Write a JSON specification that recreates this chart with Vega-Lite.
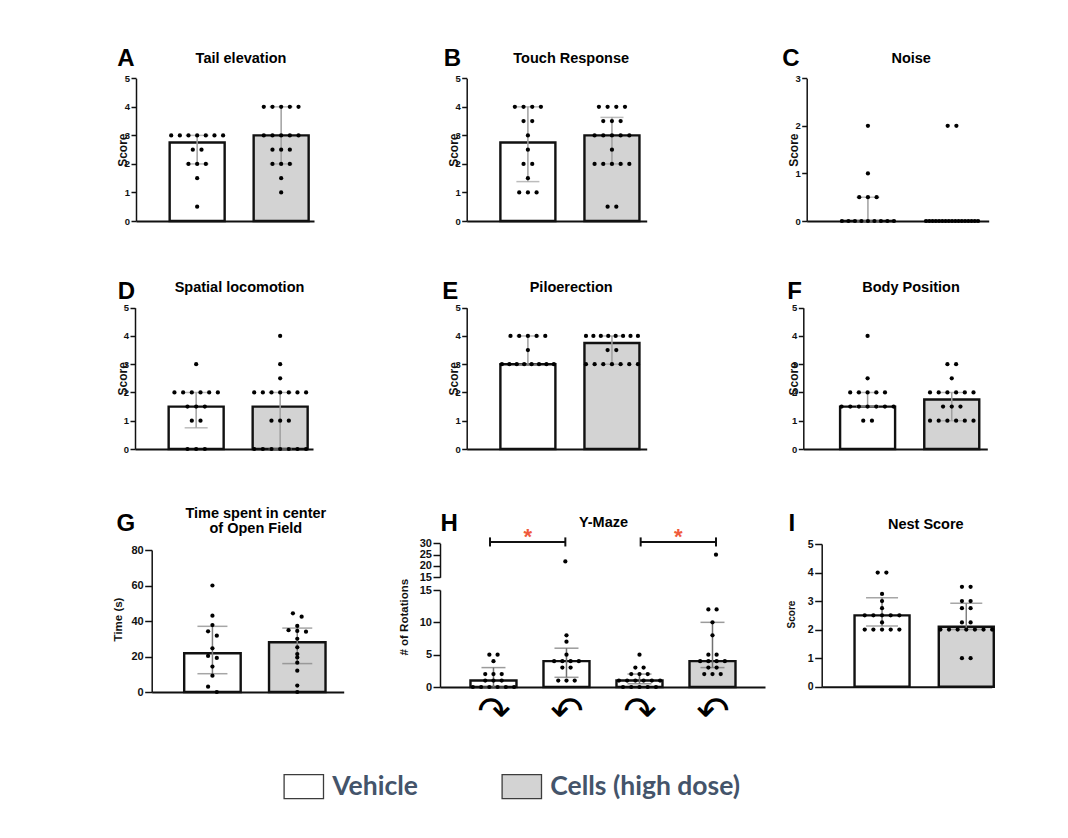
{
"$schema": "https://vega.github.io/schema/vega-lite/v6.json",
"width": 1068, "height": 838,
"autosize": {"type": "none"},
"padding": 0,
"background": "white",
"config": {
 "view": {"stroke": null},
 "font": "Liberation Sans",
 "axis": {"grid": false, "labelFont": "Liberation Sans", "labelFontWeight": "bold", "labelColor": "#111", "titleFont": "Liberation Sans", "titleFontWeight": "bold", "titleColor": "#111", "domainColor": "#111", "tickColor": "#111", "domainWidth": 1.5, "tickWidth": 1.5, "labelOverlap": false},
 "legend": {"orient": "none", "legendX": 283.3, "legendY": 765.6, "direction": "horizontal", "symbolType": "M-1,-0.61H1V0.61H-1Z", "symbolSize": 1552, "symbolStrokeColor": "#3c3c3c", "symbolStrokeWidth": 1.3, "labelFont": "Lato", "labelFontSize": 26.5, "labelFontWeight": "bold", "labelColor": "#44546a", "labelOffset": 8, "columnPadding": 81, "labelLimit": 400, "padding": 0}
},
"datasets": {
 "bars": [
  {"panel":"A","g":1,"treatment":"Vehicle","median":2.75,"q1":2.0,"q3":3.0},
  {"panel":"A","g":2,"treatment":"Cells (high dose)","median":3.0,"q1":2.0,"q3":4.0},
  {"panel":"B","g":1,"treatment":"Vehicle","median":2.75,"q1":1.38,"q3":4.0},
  {"panel":"B","g":2,"treatment":"Cells (high dose)","median":3.0,"q1":2.0,"q3":3.63},
  {"panel":"C","g":1,"treatment":"Vehicle","median":0,"q1":0,"q3":0.5},
  {"panel":"C","g":2,"treatment":"Cells (high dose)","median":0,"q1":0,"q3":0},
  {"panel":"D","g":1,"treatment":"Vehicle","median":1.5,"q1":0.75,"q3":2.0},
  {"panel":"D","g":2,"treatment":"Cells (high dose)","median":1.5,"q1":0,"q3":2.0},
  {"panel":"E","g":1,"treatment":"Vehicle","median":3.0,"q1":3.0,"q3":4.0},
  {"panel":"E","g":2,"treatment":"Cells (high dose)","median":3.75,"q1":3.0,"q3":4.0},
  {"panel":"F","g":1,"treatment":"Vehicle","median":1.5,"q1":1.5,"q3":2.0},
  {"panel":"F","g":2,"treatment":"Cells (high dose)","median":1.75,"q1":1.0,"q3":2.0},
  {"panel":"G","g":1,"treatment":"Vehicle","median":21.8,"q1":10.3,"q3":37},
  {"panel":"G","g":2,"treatment":"Cells (high dose)","median":28,"q1":16,"q3":36},
  {"panel":"H","g":1,"treatment":"Vehicle","median":1,"q1":0,"q3":3},
  {"panel":"H","g":2,"treatment":"Vehicle","median":4,"q1":1.5,"q3":6},
  {"panel":"H","g":3,"treatment":"Vehicle","median":1,"q1":0.5,"q3":2},
  {"panel":"H","g":4,"treatment":"Cells (high dose)","median":4,"q1":3,"q3":10},
  {"panel":"I","g":1,"treatment":"Vehicle","median":2.5,"q1":2.13,"q3":3.12},
  {"panel":"I","g":2,"treatment":"Cells (high dose)","median":2.1,"q1":2.0,"q3":2.92}
 ],
 "comps": [{"a":1,"b":2,"sig":"*"},{"a":3,"b":4,"sig":"*"}],
 "dots": [
  {"panel":"A","g":1,"v":3},{"panel":"A","g":1,"v":3},{"panel":"A","g":1,"v":3},{"panel":"A","g":1,"v":3},{"panel":"A","g":1,"v":3},{"panel":"A","g":1,"v":3},{"panel":"A","g":1,"v":3},{"panel":"A","g":1,"v":2.5},{"panel":"A","g":1,"v":2.5},{"panel":"A","g":1,"v":2},{"panel":"A","g":1,"v":2},{"panel":"A","g":1,"v":2},{"panel":"A","g":1,"v":1.5},{"panel":"A","g":1,"v":0.5},
  {"panel":"A","g":2,"v":4},{"panel":"A","g":2,"v":4},{"panel":"A","g":2,"v":4},{"panel":"A","g":2,"v":4},{"panel":"A","g":2,"v":4},{"panel":"A","g":2,"v":3},{"panel":"A","g":2,"v":3},{"panel":"A","g":2,"v":3},{"panel":"A","g":2,"v":3},{"panel":"A","g":2,"v":3},{"panel":"A","g":2,"v":2.5},{"panel":"A","g":2,"v":2.5},{"panel":"A","g":2,"v":2.5},{"panel":"A","g":2,"v":2},{"panel":"A","g":2,"v":2},{"panel":"A","g":2,"v":2},{"panel":"A","g":2,"v":1.5},{"panel":"A","g":2,"v":1},
  {"panel":"B","g":1,"v":4},{"panel":"B","g":1,"v":4},{"panel":"B","g":1,"v":4},{"panel":"B","g":1,"v":4},{"panel":"B","g":1,"v":3.5},{"panel":"B","g":1,"v":3.5},{"panel":"B","g":1,"v":3},{"panel":"B","g":1,"v":2.5},{"panel":"B","g":1,"v":2},{"panel":"B","g":1,"v":2},{"panel":"B","g":1,"v":1.5},{"panel":"B","g":1,"v":1},{"panel":"B","g":1,"v":1},{"panel":"B","g":1,"v":1},
  {"panel":"B","g":2,"v":4},{"panel":"B","g":2,"v":4},{"panel":"B","g":2,"v":4},{"panel":"B","g":2,"v":4},{"panel":"B","g":2,"v":3.5},{"panel":"B","g":2,"v":3.5},{"panel":"B","g":2,"v":3.5},{"panel":"B","g":2,"v":3},{"panel":"B","g":2,"v":3},{"panel":"B","g":2,"v":3},{"panel":"B","g":2,"v":3},{"panel":"B","g":2,"v":3},{"panel":"B","g":2,"v":2.5},{"panel":"B","g":2,"v":2},{"panel":"B","g":2,"v":2},{"panel":"B","g":2,"v":2},{"panel":"B","g":2,"v":2},{"panel":"B","g":2,"v":2},{"panel":"B","g":2,"v":0.5},{"panel":"B","g":2,"v":0.5},
  {"panel":"C","g":1,"v":2},{"panel":"C","g":1,"v":1},{"panel":"C","g":1,"v":0.5},{"panel":"C","g":1,"v":0.5},{"panel":"C","g":1,"v":0.5},{"panel":"C","g":1,"v":0},{"panel":"C","g":1,"v":0},{"panel":"C","g":1,"v":0},{"panel":"C","g":1,"v":0},{"panel":"C","g":1,"v":0},{"panel":"C","g":1,"v":0},{"panel":"C","g":1,"v":0},{"panel":"C","g":1,"v":0},{"panel":"C","g":1,"v":0},
  {"panel":"C","g":2,"v":2},{"panel":"C","g":2,"v":2},{"panel":"C","g":2,"v":0},{"panel":"C","g":2,"v":0},{"panel":"C","g":2,"v":0},{"panel":"C","g":2,"v":0},{"panel":"C","g":2,"v":0},{"panel":"C","g":2,"v":0},{"panel":"C","g":2,"v":0},{"panel":"C","g":2,"v":0},{"panel":"C","g":2,"v":0},{"panel":"C","g":2,"v":0},{"panel":"C","g":2,"v":0},{"panel":"C","g":2,"v":0},{"panel":"C","g":2,"v":0},{"panel":"C","g":2,"v":0},{"panel":"C","g":2,"v":0},{"panel":"C","g":2,"v":0},{"panel":"C","g":2,"v":0},
  {"panel":"D","g":1,"v":3},{"panel":"D","g":1,"v":2},{"panel":"D","g":1,"v":2},{"panel":"D","g":1,"v":2},{"panel":"D","g":1,"v":2},{"panel":"D","g":1,"v":2},{"panel":"D","g":1,"v":2},{"panel":"D","g":1,"v":1.5},{"panel":"D","g":1,"v":1.5},{"panel":"D","g":1,"v":1.5},{"panel":"D","g":1,"v":1},{"panel":"D","g":1,"v":1},{"panel":"D","g":1,"v":0},{"panel":"D","g":1,"v":0},{"panel":"D","g":1,"v":0},
  {"panel":"D","g":2,"v":4},{"panel":"D","g":2,"v":3},{"panel":"D","g":2,"v":2.5},{"panel":"D","g":2,"v":2},{"panel":"D","g":2,"v":2},{"panel":"D","g":2,"v":2},{"panel":"D","g":2,"v":2},{"panel":"D","g":2,"v":2},{"panel":"D","g":2,"v":2},{"panel":"D","g":2,"v":2},{"panel":"D","g":2,"v":1},{"panel":"D","g":2,"v":1},{"panel":"D","g":2,"v":1},{"panel":"D","g":2,"v":0},{"panel":"D","g":2,"v":0},{"panel":"D","g":2,"v":0},{"panel":"D","g":2,"v":0},{"panel":"D","g":2,"v":0},{"panel":"D","g":2,"v":0},{"panel":"D","g":2,"v":0},
  {"panel":"E","g":1,"v":4},{"panel":"E","g":1,"v":4},{"panel":"E","g":1,"v":4},{"panel":"E","g":1,"v":4},{"panel":"E","g":1,"v":4},{"panel":"E","g":1,"v":3.5},{"panel":"E","g":1,"v":3},{"panel":"E","g":1,"v":3},{"panel":"E","g":1,"v":3},{"panel":"E","g":1,"v":3},{"panel":"E","g":1,"v":3},{"panel":"E","g":1,"v":3},{"panel":"E","g":1,"v":3},{"panel":"E","g":1,"v":3},
  {"panel":"E","g":2,"v":4},{"panel":"E","g":2,"v":4},{"panel":"E","g":2,"v":4},{"panel":"E","g":2,"v":4},{"panel":"E","g":2,"v":4},{"panel":"E","g":2,"v":4},{"panel":"E","g":2,"v":4},{"panel":"E","g":2,"v":4},{"panel":"E","g":2,"v":3.5},{"panel":"E","g":2,"v":3.5},{"panel":"E","g":2,"v":3},{"panel":"E","g":2,"v":3},{"panel":"E","g":2,"v":3},{"panel":"E","g":2,"v":3},{"panel":"E","g":2,"v":3},{"panel":"E","g":2,"v":3},{"panel":"E","g":2,"v":3},
  {"panel":"F","g":1,"v":4},{"panel":"F","g":1,"v":2.5},{"panel":"F","g":1,"v":2},{"panel":"F","g":1,"v":2},{"panel":"F","g":1,"v":2},{"panel":"F","g":1,"v":2},{"panel":"F","g":1,"v":2},{"panel":"F","g":1,"v":1.5},{"panel":"F","g":1,"v":1.5},{"panel":"F","g":1,"v":1.5},{"panel":"F","g":1,"v":1.5},{"panel":"F","g":1,"v":1.5},{"panel":"F","g":1,"v":1.5},{"panel":"F","g":1,"v":1.5},{"panel":"F","g":1,"v":1},{"panel":"F","g":1,"v":1},
  {"panel":"F","g":2,"v":3},{"panel":"F","g":2,"v":3},{"panel":"F","g":2,"v":2.5},{"panel":"F","g":2,"v":2},{"panel":"F","g":2,"v":2},{"panel":"F","g":2,"v":2},{"panel":"F","g":2,"v":2},{"panel":"F","g":2,"v":2},{"panel":"F","g":2,"v":2},{"panel":"F","g":2,"v":1.5},{"panel":"F","g":2,"v":1.5},{"panel":"F","g":2,"v":1.5},{"panel":"F","g":2,"v":1},{"panel":"F","g":2,"v":1},{"panel":"F","g":2,"v":1},{"panel":"F","g":2,"v":1},{"panel":"F","g":2,"v":1},{"panel":"F","g":2,"v":1},
  {"panel":"G","g":1,"v":60},{"panel":"G","g":1,"v":43},{"panel":"G","g":1,"v":37.7},{"panel":"G","g":1,"v":34.2},{"panel":"G","g":1,"v":31.7},{"panel":"G","g":1,"v":24.6},{"panel":"G","g":1,"v":20.3},{"panel":"G","g":1,"v":19.2},{"panel":"G","g":1,"v":14.3},{"panel":"G","g":1,"v":9.2},{"panel":"G","g":1,"v":3},{"panel":"G","g":1,"v":0},
  {"panel":"G","g":2,"v":44.3},{"panel":"G","g":2,"v":42.4},{"panel":"G","g":2,"v":37.2},{"panel":"G","g":2,"v":34.8},{"panel":"G","g":2,"v":34.4},{"panel":"G","g":2,"v":34},{"panel":"G","g":2,"v":30},{"panel":"G","g":2,"v":25.2},{"panel":"G","g":2,"v":21.4},{"panel":"G","g":2,"v":19.5},{"panel":"G","g":2,"v":16.5},{"panel":"G","g":2,"v":12},{"panel":"G","g":2,"v":3.6},{"panel":"G","g":2,"v":0},
  {"panel":"H","g":1,"v":5},{"panel":"H","g":1,"v":5},{"panel":"H","g":1,"v":4},{"panel":"H","g":1,"v":2},{"panel":"H","g":1,"v":2},{"panel":"H","g":1,"v":2},{"panel":"H","g":1,"v":1},{"panel":"H","g":1,"v":1},{"panel":"H","g":1,"v":1},{"panel":"H","g":1,"v":0},{"panel":"H","g":1,"v":0},{"panel":"H","g":1,"v":0},{"panel":"H","g":1,"v":0},{"panel":"H","g":1,"v":0},{"panel":"H","g":1,"v":0},
  {"panel":"H","g":2,"v":22},{"panel":"H","g":2,"v":8},{"panel":"H","g":2,"v":7},{"panel":"H","g":2,"v":5},{"panel":"H","g":2,"v":4},{"panel":"H","g":2,"v":4},{"panel":"H","g":2,"v":4},{"panel":"H","g":2,"v":4},{"panel":"H","g":2,"v":3},{"panel":"H","g":2,"v":3},{"panel":"H","g":2,"v":1},{"panel":"H","g":2,"v":1},{"panel":"H","g":2,"v":1},
  {"panel":"H","g":3,"v":5},{"panel":"H","g":3,"v":3},{"panel":"H","g":3,"v":3},{"panel":"H","g":3,"v":2},{"panel":"H","g":3,"v":2},{"panel":"H","g":3,"v":2},{"panel":"H","g":3,"v":1},{"panel":"H","g":3,"v":1},{"panel":"H","g":3,"v":1},{"panel":"H","g":3,"v":1},{"panel":"H","g":3,"v":1},{"panel":"H","g":3,"v":1},{"panel":"H","g":3,"v":0},{"panel":"H","g":3,"v":0},{"panel":"H","g":3,"v":0},{"panel":"H","g":3,"v":0},{"panel":"H","g":3,"v":0},
  {"panel":"H","g":4,"v":25},{"panel":"H","g":4,"v":12},{"panel":"H","g":4,"v":12},{"panel":"H","g":4,"v":10},{"panel":"H","g":4,"v":8},{"panel":"H","g":4,"v":5},{"panel":"H","g":4,"v":5},{"panel":"H","g":4,"v":4},{"panel":"H","g":4,"v":4},{"panel":"H","g":4,"v":4},{"panel":"H","g":4,"v":4},{"panel":"H","g":4,"v":3},{"panel":"H","g":4,"v":3},{"panel":"H","g":4,"v":2},{"panel":"H","g":4,"v":2},{"panel":"H","g":4,"v":2},
  {"panel":"I","g":1,"v":4},{"panel":"I","g":1,"v":4},{"panel":"I","g":1,"v":3.25},{"panel":"I","g":1,"v":3},{"panel":"I","g":1,"v":2.75},{"panel":"I","g":1,"v":2.5},{"panel":"I","g":1,"v":2.5},{"panel":"I","g":1,"v":2.5},{"panel":"I","g":1,"v":2.5},{"panel":"I","g":1,"v":2.5},{"panel":"I","g":1,"v":2.25},{"panel":"I","g":1,"v":2},{"panel":"I","g":1,"v":2},{"panel":"I","g":1,"v":2},{"panel":"I","g":1,"v":2},{"panel":"I","g":1,"v":2},
  {"panel":"I","g":2,"v":3.5},{"panel":"I","g":2,"v":3.5},{"panel":"I","g":2,"v":3},{"panel":"I","g":2,"v":3},{"panel":"I","g":2,"v":2.75},{"panel":"I","g":2,"v":2.75},{"panel":"I","g":2,"v":2.25},{"panel":"I","g":2,"v":2.25},{"panel":"I","g":2,"v":2},{"panel":"I","g":2,"v":2},{"panel":"I","g":2,"v":2},{"panel":"I","g":2,"v":2},{"panel":"I","g":2,"v":2},{"panel":"I","g":2,"v":2},{"panel":"I","g":2,"v":2},{"panel":"I","g":2,"v":1},{"panel":"I","g":2,"v":1}
 ]
},
"layer": [
 {"layer": [
  {"data": {"name": "bars"}, "transform": [{"filter": "datum.panel === 'A'"}],
   "mark": {"type": "bar", "orient": "vertical", "size": 55, "stroke": "#111", "strokeWidth": 2.4},
   "encoding": {
    "x": {"field": "g", "type": "quantitative", "scale": {"domain": [0.3315, 2.3315], "range": [136, 314], "nice": false, "zero": false}, "axis": {"orient": "bottom", "offset": -617, "domainWidth": 2, "ticks": false, "labels": false, "title": "A", "titleX": 116.7, "titleY": -156, "titleAlign": "left", "titleBaseline": "alphabetic", "titleFontSize": 24, "titleAngle": 0, "titleColor": "#000"}},
    "y": {"field": "median", "type": "quantitative", "scale": {"domain": [0, 5], "range": [221, 78.3], "nice": false}, "axis": {"orient": "left", "offset": -136, "values": [0,1,2,3,4,5], "format": "d", "title": "Score", "titleX": -14, "titleY": 149.65, "titleAlign": "center", "titleBaseline": "middle", "titleAngle": -90, "titleFontSize": 12, "labelFontSize": 9.5, "tickSize": 5, "labelPadding": 1.5}},
    "fill": {"field": "treatment", "type": "nominal", "scale": {"domain": ["Vehicle", "Cells (high dose)"], "range": ["#ffffff", "#d3d3d3"]}, "legend": {"title": null}}
   }},
  {"data": {"name": "bars"}, "transform": [{"filter": "datum.panel === 'A'"}],
   "mark": {"type": "rule", "color": "#a0a0a0", "strokeWidth": 1.5},
   "encoding": {
    "x": {"field": "g", "type": "quantitative", "axis": {"orient": "top", "offset": 0, "domain": false, "ticks": false, "labels": false, "title": "Tail elevation", "titleX": 240.5, "titleY": 62.7, "titleAlign": "center", "titleBaseline": "alphabetic", "titleFontSize": 14.5, "titleAngle": 0, "titleColor": "#000"}},
    "y": {"field": "q1", "type": "quantitative"}, "y2": {"field": "q3"}}},
  {"data": {"name": "bars"}, "transform": [{"filter": "datum.panel === 'A'"}, {"fold": ["q1", "q3"]}],
   "mark": {"type": "tick", "orient": "horizontal", "size": 23, "thickness": 1.5, "color": "#a0a0a0"},
   "encoding": {"x": {"field": "g", "type": "quantitative", "axis": null}, "y": {"field": "value", "type": "quantitative"}}},
  {"data": {"name": "dots"}, "transform": [{"filter": "datum.panel === 'A'"}, {"calculate": "round(datum.v * 4)", "as": "k"}, {"window": [{"op": "row_number", "as": "idx"}], "groupby": ["g", "k"]}, {"joinaggregate": [{"op": "count", "as": "cnt"}], "groupby": ["g", "k"]}, {"calculate": "datum.g + (datum.idx - (datum.cnt + 1) / 2) * min(9.2, 55 / max(1, datum.cnt - 1)) / 89", "as": "xp"}],
   "mark": {"type": "circle", "size": 18, "color": "#000", "opacity": 1},
   "encoding": {"x": {"field": "xp", "type": "quantitative", "axis": null}, "y": {"field": "v", "type": "quantitative"}}}
 ], "resolve": {"axis": {"x": "independent"}}},

 {"layer": [
  {"data": {"name": "bars"}, "transform": [{"filter": "datum.panel === 'B'"}],
   "mark": {"type": "bar", "orient": "vertical", "size": 55, "stroke": "#111", "strokeWidth": 2.4},
   "encoding": {
    "x": {"field": "g", "type": "quantitative", "scale": {"domain": [0.3315, 2.3539], "range": [466.7, 646.7], "nice": false, "zero": false}, "axis": {"orient": "bottom", "offset": -617, "domainWidth": 2, "ticks": false, "labels": false, "title": "B", "titleX": 443.3, "titleY": -156, "titleAlign": "left", "titleBaseline": "alphabetic", "titleFontSize": 24, "titleAngle": 0, "titleColor": "#000"}},
    "y": {"field": "median", "type": "quantitative", "scale": {"domain": [0, 5], "range": [221, 78.3], "nice": false}, "axis": {"orient": "left", "offset": -466.7, "values": [0,1,2,3,4,5], "format": "d", "title": "Score", "titleX": -13.4, "titleY": 149.65, "titleAlign": "center", "titleBaseline": "middle", "titleAngle": -90, "titleFontSize": 12, "labelFontSize": 9.5, "tickSize": 5, "labelPadding": 1.5}},
    "fill": {"field": "treatment", "type": "nominal", "scale": {"domain": ["Vehicle", "Cells (high dose)"], "range": ["#ffffff", "#d3d3d3"]}, "legend": {"title": null}}
   }},
  {"data": {"name": "bars"}, "transform": [{"filter": "datum.panel === 'B'"}],
   "mark": {"type": "rule", "color": "#a0a0a0", "strokeWidth": 1.5},
   "encoding": {
    "x": {"field": "g", "type": "quantitative", "axis": {"orient": "top", "offset": 0, "domain": false, "ticks": false, "labels": false, "title": "Touch Response", "titleX": 570.7, "titleY": 62.7, "titleAlign": "center", "titleBaseline": "alphabetic", "titleFontSize": 14.5, "titleAngle": 0, "titleColor": "#000"}},
    "y": {"field": "q1", "type": "quantitative"}, "y2": {"field": "q3"}}},
  {"data": {"name": "bars"}, "transform": [{"filter": "datum.panel === 'B'"}, {"fold": ["q1", "q3"]}],
   "mark": {"type": "tick", "orient": "horizontal", "size": 23, "thickness": 1.5, "color": "#a0a0a0"},
   "encoding": {"x": {"field": "g", "type": "quantitative", "axis": null}, "y": {"field": "value", "type": "quantitative"}}},
  {"data": {"name": "dots"}, "transform": [{"filter": "datum.panel === 'B'"}, {"calculate": "round(datum.v * 4)", "as": "k"}, {"window": [{"op": "row_number", "as": "idx"}], "groupby": ["g", "k"]}, {"joinaggregate": [{"op": "count", "as": "cnt"}], "groupby": ["g", "k"]}, {"calculate": "datum.g + (datum.idx - (datum.cnt + 1) / 2) * min(9.2, 55 / max(1, datum.cnt - 1)) / 89", "as": "xp"}],
   "mark": {"type": "circle", "size": 18, "color": "#000", "opacity": 1},
   "encoding": {"x": {"field": "xp", "type": "quantitative", "axis": null}, "y": {"field": "v", "type": "quantitative"}}}
 ], "resolve": {"axis": {"x": "independent"}}},

 {"layer": [
  {"data": {"name": "bars"}, "transform": [{"filter": "datum.panel === 'C'"}],
   "mark": {"type": "bar", "orient": "vertical", "size": 55, "stroke": "#111", "strokeWidth": 2.4},
   "encoding": {
    "x": {"field": "g", "type": "quantitative", "scale": {"domain": [0.3315, 2.3764], "range": [806.7, 988.7], "nice": false, "zero": false}, "axis": {"orient": "bottom", "offset": -617, "domainWidth": 2, "ticks": false, "labels": false, "title": "C", "titleX": 781.7, "titleY": -156, "titleAlign": "left", "titleBaseline": "alphabetic", "titleFontSize": 24, "titleAngle": 0, "titleColor": "#000"}},
    "y": {"field": "median", "type": "quantitative", "scale": {"domain": [0, 3], "range": [221, 78.3], "nice": false}, "axis": {"orient": "left", "offset": -806.7, "values": [0,1,2,3], "format": "d", "title": "Score", "titleX": -13.7, "titleY": 149.65, "titleAlign": "center", "titleBaseline": "middle", "titleAngle": -90, "titleFontSize": 12, "labelFontSize": 9.5, "tickSize": 5, "labelPadding": 1.5}},
    "fill": {"field": "treatment", "type": "nominal", "scale": {"domain": ["Vehicle", "Cells (high dose)"], "range": ["#ffffff", "#d3d3d3"]}, "legend": {"title": null}}
   }},
  {"data": {"name": "bars"}, "transform": [{"filter": "datum.panel === 'C'"}],
   "mark": {"type": "rule", "color": "#a0a0a0", "strokeWidth": 1.5},
   "encoding": {
    "x": {"field": "g", "type": "quantitative", "axis": {"orient": "top", "offset": 0, "domain": false, "ticks": false, "labels": false, "title": "Noise", "titleX": 910.7, "titleY": 62.7, "titleAlign": "center", "titleBaseline": "alphabetic", "titleFontSize": 14.5, "titleAngle": 0, "titleColor": "#000"}},
    "y": {"field": "q1", "type": "quantitative"}, "y2": {"field": "q3"}}},
  {"data": {"name": "bars"}, "transform": [{"filter": "datum.panel === 'C'"}, {"fold": ["q1", "q3"]}],
   "mark": {"type": "tick", "orient": "horizontal", "size": 23, "thickness": 1.5, "color": "#a0a0a0"},
   "encoding": {"x": {"field": "g", "type": "quantitative", "axis": null}, "y": {"field": "value", "type": "quantitative"}}},
  {"data": {"name": "dots"}, "transform": [{"filter": "datum.panel === 'C'"}, {"calculate": "round(datum.v * 4)", "as": "k"}, {"window": [{"op": "row_number", "as": "idx"}], "groupby": ["g", "k"]}, {"joinaggregate": [{"op": "count", "as": "cnt"}], "groupby": ["g", "k"]}, {"calculate": "datum.g + (datum.idx - (datum.cnt + 1) / 2) * min(9.2, 55 / max(1, datum.cnt - 1)) / 89", "as": "xp"}],
   "mark": {"type": "circle", "size": 18, "color": "#000", "opacity": 1},
   "encoding": {"x": {"field": "xp", "type": "quantitative", "axis": null}, "y": {"field": "v", "type": "quantitative"}}}
 ], "resolve": {"axis": {"x": "independent"}}},

 {"layer": [
  {"data": {"name": "bars"}, "transform": [{"filter": "datum.panel === 'D'"}],
   "mark": {"type": "bar", "orient": "vertical", "size": 55, "stroke": "#111", "strokeWidth": 2.4},
   "encoding": {
    "x": {"field": "g", "type": "quantitative", "scale": {"domain": [0.3315, 2.3315], "range": [135, 313], "nice": false, "zero": false}, "axis": {"orient": "bottom", "offset": -389, "domainWidth": 2, "ticks": false, "labels": false, "title": "D", "titleX": 117.3, "titleY": -150.7, "titleAlign": "left", "titleBaseline": "alphabetic", "titleFontSize": 24, "titleAngle": 0, "titleColor": "#000"}},
    "y": {"field": "median", "type": "quantitative", "scale": {"domain": [0, 5], "range": [449, 307.7], "nice": false}, "axis": {"orient": "left", "offset": -135, "values": [0,1,2,3,4,5], "format": "d", "title": "Score", "titleX": -12.2, "titleY": 378.35, "titleAlign": "center", "titleBaseline": "middle", "titleAngle": -90, "titleFontSize": 12, "labelFontSize": 9.5, "tickSize": 5, "labelPadding": 1.5}},
    "fill": {"field": "treatment", "type": "nominal", "scale": {"domain": ["Vehicle", "Cells (high dose)"], "range": ["#ffffff", "#d3d3d3"]}, "legend": {"title": null}}
   }},
  {"data": {"name": "bars"}, "transform": [{"filter": "datum.panel === 'D'"}],
   "mark": {"type": "rule", "color": "#a0a0a0", "strokeWidth": 1.5},
   "encoding": {
    "x": {"field": "g", "type": "quantitative", "axis": {"orient": "top", "offset": 0, "domain": false, "ticks": false, "labels": false, "title": "Spatial locomotion", "titleX": 239, "titleY": 291.7, "titleAlign": "center", "titleBaseline": "alphabetic", "titleFontSize": 14.5, "titleAngle": 0, "titleColor": "#000"}},
    "y": {"field": "q1", "type": "quantitative"}, "y2": {"field": "q3"}}},
  {"data": {"name": "bars"}, "transform": [{"filter": "datum.panel === 'D'"}, {"fold": ["q1", "q3"]}],
   "mark": {"type": "tick", "orient": "horizontal", "size": 23, "thickness": 1.5, "color": "#a0a0a0"},
   "encoding": {"x": {"field": "g", "type": "quantitative", "axis": null}, "y": {"field": "value", "type": "quantitative"}}},
  {"data": {"name": "dots"}, "transform": [{"filter": "datum.panel === 'D'"}, {"calculate": "round(datum.v * 4)", "as": "k"}, {"window": [{"op": "row_number", "as": "idx"}], "groupby": ["g", "k"]}, {"joinaggregate": [{"op": "count", "as": "cnt"}], "groupby": ["g", "k"]}, {"calculate": "datum.g + (datum.idx - (datum.cnt + 1) / 2) * min(9.2, 55 / max(1, datum.cnt - 1)) / 89", "as": "xp"}],
   "mark": {"type": "circle", "size": 18, "color": "#000", "opacity": 1},
   "encoding": {"x": {"field": "xp", "type": "quantitative", "axis": null}, "y": {"field": "v", "type": "quantitative"}}}
 ], "resolve": {"axis": {"x": "independent"}}},

 {"layer": [
  {"data": {"name": "bars"}, "transform": [{"filter": "datum.panel === 'E'"}],
   "mark": {"type": "bar", "orient": "vertical", "size": 55, "stroke": "#111", "strokeWidth": 2.4},
   "encoding": {
    "x": {"field": "g", "type": "quantitative", "scale": {"domain": [0.3315, 2.3539], "range": [466.7, 646.7], "nice": false, "zero": false}, "axis": {"orient": "bottom", "offset": -389, "domainWidth": 2, "ticks": false, "labels": false, "title": "E", "titleX": 441.7, "titleY": -150.7, "titleAlign": "left", "titleBaseline": "alphabetic", "titleFontSize": 24, "titleAngle": 0, "titleColor": "#000"}},
    "y": {"field": "median", "type": "quantitative", "scale": {"domain": [0, 5], "range": [449, 307.7], "nice": false}, "axis": {"orient": "left", "offset": -466.7, "values": [0,1,2,3,4,5], "format": "d", "title": "Score", "titleX": -13, "titleY": 378.35, "titleAlign": "center", "titleBaseline": "middle", "titleAngle": -90, "titleFontSize": 12, "labelFontSize": 9.5, "tickSize": 5, "labelPadding": 1.5}},
    "fill": {"field": "treatment", "type": "nominal", "scale": {"domain": ["Vehicle", "Cells (high dose)"], "range": ["#ffffff", "#d3d3d3"]}, "legend": {"title": null}}
   }},
  {"data": {"name": "bars"}, "transform": [{"filter": "datum.panel === 'E'"}],
   "mark": {"type": "rule", "color": "#a0a0a0", "strokeWidth": 1.5},
   "encoding": {
    "x": {"field": "g", "type": "quantitative", "axis": {"orient": "top", "offset": 0, "domain": false, "ticks": false, "labels": false, "title": "Piloerection", "titleX": 570.7, "titleY": 291.7, "titleAlign": "center", "titleBaseline": "alphabetic", "titleFontSize": 14.5, "titleAngle": 0, "titleColor": "#000"}},
    "y": {"field": "q1", "type": "quantitative"}, "y2": {"field": "q3"}}},
  {"data": {"name": "bars"}, "transform": [{"filter": "datum.panel === 'E'"}, {"fold": ["q1", "q3"]}],
   "mark": {"type": "tick", "orient": "horizontal", "size": 23, "thickness": 1.5, "color": "#a0a0a0"},
   "encoding": {"x": {"field": "g", "type": "quantitative", "axis": null}, "y": {"field": "value", "type": "quantitative"}}},
  {"data": {"name": "dots"}, "transform": [{"filter": "datum.panel === 'E'"}, {"calculate": "round(datum.v * 4)", "as": "k"}, {"window": [{"op": "row_number", "as": "idx"}], "groupby": ["g", "k"]}, {"joinaggregate": [{"op": "count", "as": "cnt"}], "groupby": ["g", "k"]}, {"calculate": "datum.g + (datum.idx - (datum.cnt + 1) / 2) * min(9.2, 55 / max(1, datum.cnt - 1)) / 89", "as": "xp"}],
   "mark": {"type": "circle", "size": 18, "color": "#000", "opacity": 1},
   "encoding": {"x": {"field": "xp", "type": "quantitative", "axis": null}, "y": {"field": "v", "type": "quantitative"}}}
 ], "resolve": {"axis": {"x": "independent"}}},

 {"layer": [
  {"data": {"name": "bars"}, "transform": [{"filter": "datum.panel === 'F'"}],
   "mark": {"type": "bar", "orient": "vertical", "size": 55, "stroke": "#111", "strokeWidth": 2.4},
   "encoding": {
    "x": {"field": "g", "type": "quantitative", "scale": {"domain": [0.2955, 2.3629], "range": [803.3, 987.3], "nice": false, "zero": false}, "axis": {"orient": "bottom", "offset": -389, "domainWidth": 2, "ticks": false, "labels": false, "title": "F", "titleX": 786.7, "titleY": -150.7, "titleAlign": "left", "titleBaseline": "alphabetic", "titleFontSize": 24, "titleAngle": 0, "titleColor": "#000"}},
    "y": {"field": "median", "type": "quantitative", "scale": {"domain": [0, 5], "range": [449, 307.7], "nice": false}, "axis": {"orient": "left", "offset": -803.3, "values": [0,1,2,3,4,5], "format": "d", "title": "Score", "titleX": -10, "titleY": 378.35, "titleAlign": "center", "titleBaseline": "middle", "titleAngle": -90, "titleFontSize": 12, "labelFontSize": 9.5, "tickSize": 5, "labelPadding": 1.5}},
    "fill": {"field": "treatment", "type": "nominal", "scale": {"domain": ["Vehicle", "Cells (high dose)"], "range": ["#ffffff", "#d3d3d3"]}, "legend": {"title": null}}
   }},
  {"data": {"name": "bars"}, "transform": [{"filter": "datum.panel === 'F'"}],
   "mark": {"type": "rule", "color": "#a0a0a0", "strokeWidth": 1.5},
   "encoding": {
    "x": {"field": "g", "type": "quantitative", "axis": {"orient": "top", "offset": 0, "domain": false, "ticks": false, "labels": false, "title": "Body Position", "titleX": 910.5, "titleY": 291.7, "titleAlign": "center", "titleBaseline": "alphabetic", "titleFontSize": 14.5, "titleAngle": 0, "titleColor": "#000"}},
    "y": {"field": "q1", "type": "quantitative"}, "y2": {"field": "q3"}}},
  {"data": {"name": "bars"}, "transform": [{"filter": "datum.panel === 'F'"}, {"fold": ["q1", "q3"]}],
   "mark": {"type": "tick", "orient": "horizontal", "size": 23, "thickness": 1.5, "color": "#a0a0a0"},
   "encoding": {"x": {"field": "g", "type": "quantitative", "axis": null}, "y": {"field": "value", "type": "quantitative"}}},
  {"data": {"name": "dots"}, "transform": [{"filter": "datum.panel === 'F'"}, {"calculate": "round(datum.v * 4)", "as": "k"}, {"window": [{"op": "row_number", "as": "idx"}], "groupby": ["g", "k"]}, {"joinaggregate": [{"op": "count", "as": "cnt"}], "groupby": ["g", "k"]}, {"calculate": "datum.g + (datum.idx - (datum.cnt + 1) / 2) * min(9.2, 55 / max(1, datum.cnt - 1)) / 89", "as": "xp"}],
   "mark": {"type": "circle", "size": 18, "color": "#000", "opacity": 1},
   "encoding": {"x": {"field": "xp", "type": "quantitative", "axis": null}, "y": {"field": "v", "type": "quantitative"}}}
 ], "resolve": {"axis": {"x": "independent"}}},

 {"layer": [
  {"data": {"name": "bars"}, "transform": [{"filter": "datum.panel === 'G'"}],
   "mark": {"type": "bar", "orient": "vertical", "size": 56.5, "stroke": "#111", "strokeWidth": 2.4},
   "encoding": {
    "x": {"field": "g", "type": "quantitative", "scale": {"domain": [0.343, 2.4883], "range": [151.7, 343.7], "nice": false, "zero": false}, "axis": {"orient": "bottom", "offset": -146, "domainWidth": 2, "ticks": false, "labels": false, "title": "G", "titleX": 116, "titleY": -162, "titleAlign": "left", "titleBaseline": "alphabetic", "titleFontSize": 24, "titleAngle": 0, "titleColor": "#000"}},
    "y": {"field": "median", "type": "quantitative", "scale": {"domain": [0, 80], "range": [692, 550], "nice": false}, "axis": {"orient": "left", "offset": -151.7, "values": [0,20,40,60,80], "format": "d", "title": "Time (s)", "titleX": -33.7, "titleY": 619, "titleAlign": "center", "titleBaseline": "middle", "titleAngle": -90, "titleFontSize": 11.5, "labelFontSize": 11, "tickSize": 7, "labelPadding": 1.5}},
    "fill": {"field": "treatment", "type": "nominal", "scale": {"domain": ["Vehicle", "Cells (high dose)"], "range": ["#ffffff", "#d3d3d3"]}, "legend": {"title": null}}
   }},
  {"data": {"name": "bars"}, "transform": [{"filter": "datum.panel === 'G'"}],
   "mark": {"type": "rule", "color": "#808080", "strokeWidth": 1.5},
   "encoding": {
    "x": {"field": "g", "type": "quantitative", "axis": {"orient": "top", "offset": 0, "domain": false, "ticks": false, "labels": false, "title": ["Time spent in center", "of Open Field"], "titleX": 255.3, "titleY": 517.3, "titleAlign": "center", "titleBaseline": "alphabetic", "titleFontSize": 14.5, "titleLineHeight": 15.3, "titleAngle": 0, "titleColor": "#000"}},
    "y": {"field": "q1", "type": "quantitative"}, "y2": {"field": "q3"}}},
  {"data": {"name": "bars"}, "transform": [{"filter": "datum.panel === 'G'"}, {"fold": ["q1", "q3"]}],
   "mark": {"type": "tick", "orient": "horizontal", "size": 30, "thickness": 1.5, "color": "#808080"},
   "encoding": {"x": {"field": "g", "type": "quantitative", "axis": null}, "y": {"field": "value", "type": "quantitative"}}},
  {"data": {"name": "dots"}, "transform": [{"filter": "datum.panel === 'G'"}, {"calculate": "floor(datum.v / 3.5)", "as": "k"}, {"window": [{"op": "row_number", "as": "idx"}], "groupby": ["g", "k"]}, {"joinaggregate": [{"op": "count", "as": "cnt"}], "groupby": ["g", "k"]}, {"calculate": "datum.g + (datum.idx - (datum.cnt + 1) / 2) * min(9.2, 55 / max(1, datum.cnt - 1)) / 89.5", "as": "xp"}],
   "mark": {"type": "circle", "size": 18, "color": "#000", "opacity": 1},
   "encoding": {"x": {"field": "xp", "type": "quantitative", "axis": null}, "y": {"field": "v", "type": "quantitative"}}}
 ], "resolve": {"axis": {"x": "independent"}}},

 {"layer": [
  {"data": {"name": "dots"}, "transform": [{"filter": "datum.panel === 'H' && datum.v > 15"}, {"calculate": "datum.v", "as": "k"}, {"window": [{"op": "row_number", "as": "idx"}], "groupby": ["g", "k"]}, {"joinaggregate": [{"op": "count", "as": "cnt"}], "groupby": ["g", "k"]}, {"calculate": "datum.g + (datum.idx - (datum.cnt + 1) / 2) * min(8.5, 44 / max(1, datum.cnt - 1)) / 75.33", "as": "xp"}],
   "mark": {"type": "circle", "size": 18, "color": "#000", "opacity": 1},
   "encoding": {
    "x": {"field": "xp", "type": "quantitative", "scale": {"domain": [0.336, 4.6507], "range": [440, 765], "nice": false, "zero": false}, "axis": {"orient": "top", "offset": 0, "domain": false, "ticks": false, "labels": false, "title": "Y-Maze", "titleX": 603, "titleY": 526, "titleAlign": "center", "titleBaseline": "alphabetic", "titleFontSize": 14.5, "titleAngle": 0, "titleColor": "#000"}},
    "y": {"field": "v", "type": "quantitative", "scale": {"domain": [15, 30], "range": [577.3, 543.3], "nice": false, "zero": false}, "axis": {"orient": "left", "offset": -440, "values": [15,20,25,30], "format": "d", "title": null, "labelFontSize": 11, "tickSize": 7, "labelPadding": 1.5}}}},
  {"data": {"name": "comps"}, "mark": {"type": "rule", "color": "#111", "strokeWidth": 2},
   "encoding": {"x": {"field": "a", "type": "quantitative", "axis": null}, "x2": {"field": "b"}, "y": {"datum": 30.6}}},
  {"data": {"name": "comps"}, "transform": [{"fold": ["a", "b"]}], "mark": {"type": "rule", "color": "#111", "strokeWidth": 2},
   "encoding": {"x": {"field": "value", "type": "quantitative", "axis": null}, "y": {"datum": 28.6}, "y2": {"datum": 32.6}}},
  {"data": {"name": "comps"}, "transform": [{"calculate": "(datum.a + datum.b) / 2", "as": "mid"}],
   "mark": {"type": "text", "color": "#f05a3c", "fontSize": 22, "fontWeight": "bold", "baseline": "alphabetic", "align": "center", "font": "Liberation Sans"},
   "encoding": {"x": {"field": "mid", "type": "quantitative", "axis": null}, "y": {"datum": 29.9}, "text": {"field": "sig"}}}
 ], "resolve": {"axis": {"x": "independent"}}},

 {"layer": [
  {"data": {"name": "bars"}, "transform": [{"filter": "datum.panel === 'H'"}],
   "mark": {"type": "bar", "orient": "vertical", "size": 46, "stroke": "#111", "strokeWidth": 2.4},
   "encoding": {
    "x": {"field": "g", "type": "quantitative", "scale": {"domain": [0.336, 4.6507], "range": [440, 765], "nice": false, "zero": false}, "axis": {"orient": "bottom", "offset": -151, "domainWidth": 2, "ticks": false, "values": [1,2,3,4], "labelExpr": "datum.value % 2 === 1 ? '↷' : '↶'", "labelFont": "DejaVu Sans", "labelFontWeight": "normal", "labelFontSize": 40, "labelPadding": 5, "labelColor": "#000", "title": "H", "titleX": 440, "titleY": -157, "titleAlign": "left", "titleBaseline": "alphabetic", "titleFontSize": 24, "titleAngle": 0, "titleColor": "#000"}},
    "y": {"field": "median", "type": "quantitative", "scale": {"domain": [0, 15], "range": [687, 590], "nice": false}, "axis": {"orient": "left", "offset": -440, "values": [0,5,10,15], "format": "d", "title": "# of Rotations", "titleX": -36, "titleY": 616.7, "titleAlign": "center", "titleBaseline": "middle", "titleAngle": -90, "titleFontSize": 11.5, "labelFontSize": 11, "tickSize": 7, "labelPadding": 1.5}},
    "fill": {"field": "treatment", "type": "nominal", "scale": {"domain": ["Vehicle", "Cells (high dose)"], "range": ["#ffffff", "#d3d3d3"]}, "legend": {"title": null}}
   }},
  {"data": {"name": "bars"}, "transform": [{"filter": "datum.panel === 'H'"}],
   "mark": {"type": "rule", "color": "#707070", "strokeWidth": 1.5},
   "encoding": {"x": {"field": "g", "type": "quantitative", "axis": null}, "y": {"field": "q1", "type": "quantitative"}, "y2": {"field": "q3"}}},
  {"data": {"name": "bars"}, "transform": [{"filter": "datum.panel === 'H'"}, {"fold": ["q1", "q3"]}],
   "mark": {"type": "tick", "orient": "horizontal", "size": 24, "thickness": 1.5, "color": "#707070"},
   "encoding": {"x": {"field": "g", "type": "quantitative", "axis": null}, "y": {"field": "value", "type": "quantitative"}}},
  {"data": {"name": "dots"}, "transform": [{"filter": "datum.panel === 'H' && datum.v <= 15"}, {"calculate": "datum.v", "as": "k"}, {"window": [{"op": "row_number", "as": "idx"}], "groupby": ["g", "k"]}, {"joinaggregate": [{"op": "count", "as": "cnt"}], "groupby": ["g", "k"]}, {"calculate": "datum.g + (datum.idx - (datum.cnt + 1) / 2) * min(8.5, 44 / max(1, datum.cnt - 1)) / 75.33", "as": "xp"}],
   "mark": {"type": "circle", "size": 18, "color": "#000", "opacity": 1},
   "encoding": {"x": {"field": "xp", "type": "quantitative", "axis": null}, "y": {"field": "v", "type": "quantitative"}}}
 ], "resolve": {"axis": {"x": "independent"}}},

 {"layer": [
  {"data": {"name": "bars"}, "transform": [{"filter": "datum.panel === 'I'"}],
   "mark": {"type": "bar", "orient": "vertical", "size": 55, "stroke": "#111", "strokeWidth": 2.4},
   "encoding": {
    "x": {"field": "g", "type": "quantitative", "scale": {"domain": [0.343, 2.2425], "range": [821.7, 991.7], "nice": false, "zero": false}, "axis": {"orient": "bottom", "offset": -151.3, "domainWidth": 2, "ticks": false, "labels": false, "title": "I", "titleX": 788, "titleY": -156.7, "titleAlign": "left", "titleBaseline": "alphabetic", "titleFontSize": 24, "titleAngle": 0, "titleColor": "#000"}},
    "y": {"field": "median", "type": "quantitative", "scale": {"domain": [0, 5], "range": [686.7, 544], "nice": false}, "axis": {"orient": "left", "offset": -821.7, "values": [0,1,2,3,4,5], "format": "d", "title": "Score", "titleX": -30, "titleY": 614, "titleAlign": "center", "titleBaseline": "middle", "titleAngle": -90, "titleFontSize": 10, "labelFontSize": 10.5, "tickSize": 7, "labelPadding": 1.5}},
    "fill": {"field": "treatment", "type": "nominal", "scale": {"domain": ["Vehicle", "Cells (high dose)"], "range": ["#ffffff", "#d3d3d3"]}, "legend": {"title": null}}
   }},
  {"data": {"name": "bars"}, "transform": [{"filter": "datum.panel === 'I'"}],
   "mark": {"type": "rule", "color": "#808080", "strokeWidth": 1.5},
   "encoding": {
    "x": {"field": "g", "type": "quantitative", "axis": {"orient": "top", "offset": 0, "domain": false, "ticks": false, "labels": false, "title": "Nest Score", "titleX": 925.3, "titleY": 528.3, "titleAlign": "center", "titleBaseline": "alphabetic", "titleFontSize": 14.5, "titleAngle": 0, "titleColor": "#000"}},
    "y": {"field": "q1", "type": "quantitative"}, "y2": {"field": "q3"}}},
  {"data": {"name": "bars"}, "transform": [{"filter": "datum.panel === 'I'"}, {"fold": ["q1", "q3"]}],
   "mark": {"type": "tick", "orient": "horizontal", "size": 32, "thickness": 1.5, "color": "#808080"},
   "encoding": {"x": {"field": "g", "type": "quantitative", "axis": null}, "y": {"field": "value", "type": "quantitative"}}},
  {"data": {"name": "dots"}, "transform": [{"filter": "datum.panel === 'I'"}, {"calculate": "round(datum.v * 4)", "as": "k"}, {"window": [{"op": "row_number", "as": "idx"}], "groupby": ["g", "k"]}, {"joinaggregate": [{"op": "count", "as": "cnt"}], "groupby": ["g", "k"]}, {"calculate": "datum.g + (datum.idx - (datum.cnt + 1) / 2) * min(9.2, 55 / max(1, datum.cnt - 1)) / 89.5", "as": "xp"}],
   "mark": {"type": "circle", "size": 18, "color": "#000", "opacity": 1},
   "encoding": {"x": {"field": "xp", "type": "quantitative", "axis": null}, "y": {"field": "v", "type": "quantitative"}}}
 ], "resolve": {"axis": {"x": "independent"}}}
],
"resolve": {"scale": {"x": "independent", "y": "independent"}, "axis": {"x": "independent", "y": "independent"}}
}
